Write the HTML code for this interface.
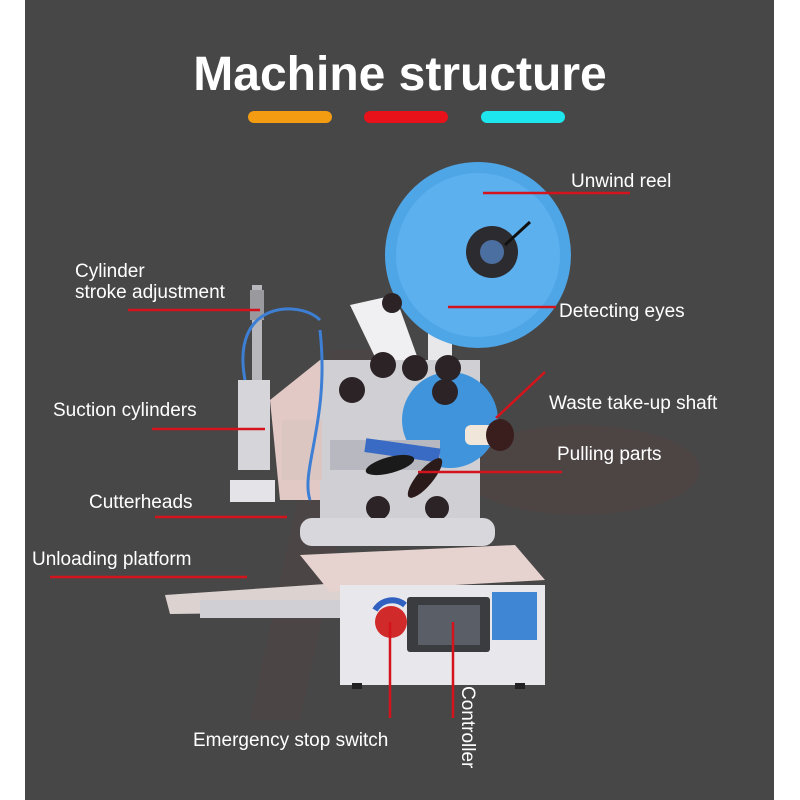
<!DOCTYPE html>
<html><head><meta charset="utf-8"><style>
html,body{margin:0;padding:0;width:800px;height:800px;overflow:hidden;background:#fff}
svg{display:block}
text{font-family:"Liberation Sans",sans-serif;fill:#fff}
</style></head><body>
<svg width="800" height="800" viewBox="0 0 800 800">
<rect x="25" y="0" width="749" height="800" fill="#474747"/>
<text x="400" y="90" text-anchor="middle" font-size="48" font-weight="bold">Machine structure</text>
<rect x="248" y="111" width="84" height="12" rx="6" fill="#f39c12"/>
<rect x="364" y="111" width="84" height="12" rx="6" fill="#e8121a"/>
<rect x="481" y="111" width="84" height="12" rx="6" fill="#1ee6ee"/>

<!-- faint watermark -->
<path d="M250 720 L330 350 L380 350 L300 720Z" fill="#6a3a3a" opacity="0.15"/>
<ellipse cx="580" cy="470" rx="120" ry="45" fill="#6a3a3a" opacity="0.18"/>

<!-- reel support -->
<rect x="428" y="300" width="24" height="120" fill="#e8e8ea"/>
<!-- unwind reel -->
<circle cx="478" cy="255" r="93" fill="#4fa6e6"/>
<circle cx="478" cy="255" r="82" fill="#5cb0ee"/>
<circle cx="492" cy="252" r="26" fill="#2c2c30"/>
<circle cx="492" cy="252" r="12" fill="#4b6fa0"/>
<line x1="505" y1="245" x2="530" y2="222" stroke="#111" stroke-width="3"/>
<!-- arm -->
<path d="M350 305 L395 295 L440 420 L410 430Z" fill="#f0f0f2"/>
<!-- main plate -->
<rect x="320" y="360" width="160" height="160" fill="#d0d0d4"/>
<path d="M270 400 L320 360 L320 500 L280 500Z" fill="#e2c9c6"/>
<!-- lower blue reel -->
<circle cx="450" cy="420" r="48" fill="#3f94dc"/>
<rect x="465" y="425" width="40" height="20" rx="6" fill="#f0e6da"/>
<ellipse cx="500" cy="435" rx="14" ry="16" fill="#3a1e1e"/>
<!-- rollers -->
<g fill="#2b2326">
<circle cx="383" cy="365" r="13"/><circle cx="415" cy="368" r="13"/><circle cx="448" cy="368" r="13"/>
<circle cx="352" cy="390" r="13"/><circle cx="445" cy="392" r="13"/>
<circle cx="378" cy="508" r="12"/><circle cx="437" cy="508" r="12"/>
<circle cx="392" cy="303" r="10"/>
</g>
<rect x="330" y="440" width="110" height="30" fill="#b8b8c0"/>
<rect x="365" y="443" width="75" height="14" fill="#3a6bc4" transform="rotate(8 400 450)"/>
<ellipse cx="390" cy="465" rx="25" ry="8" fill="#1a1a1a" transform="rotate(-15 390 465)"/>
<ellipse cx="425" cy="478" rx="8" ry="25" fill="#2a1a1a" transform="rotate(40 425 478)"/>
<!-- conveyor -->
<rect x="300" y="518" width="195" height="28" rx="12" fill="#d8d8dc"/>
<!-- cylinder parts -->
<rect x="252" y="285" width="10" height="95" fill="#b8b8bc"/>
<rect x="250" y="290" width="14" height="30" fill="#9a9a9e"/>
<rect x="238" y="380" width="32" height="90" fill="#d6d6da"/>
<rect x="230" y="480" width="45" height="22" fill="#e4e4e8"/>
<rect x="282" y="420" width="40" height="60" fill="#dcc6c2"/>
<path d="M245 380 C230 300 300 300 320 320" stroke="#3d7fd4" stroke-width="3" fill="none"/>
<path d="M320 330 C330 420 300 470 310 500" stroke="#3d7fd4" stroke-width="3" fill="none"/>
<!-- unloading platform -->
<path d="M165 595 L340 583 L345 612 L170 614Z" fill="#dcd2d0"/>
<rect x="200" y="600" width="140" height="18" fill="#cfcfd4"/>
<!-- top pink plate -->
<path d="M300 555 L515 545 L545 580 L330 592Z" fill="#e6d2cf"/>
<!-- base cabinet -->
<rect x="340" y="585" width="205" height="100" fill="#e8e8ec"/>
<rect x="407" y="597" width="83" height="55" rx="3" fill="#3a3c40"/>
<rect x="418" y="605" width="62" height="40" fill="#5a5e66"/>
<rect x="492" y="592" width="45" height="48" fill="#3f86d4"/>
<circle cx="391" cy="622" r="16" fill="#d02a2a"/>
<path d="M375 610 A20 20 0 0 1 405 605" stroke="#3060c0" stroke-width="6" fill="none"/>
<rect x="352" y="683" width="10" height="6" fill="#222"/><rect x="515" y="683" width="10" height="6" fill="#222"/>

<!-- connector lines -->
<g stroke="#d4141c" stroke-width="2.5" fill="none">
<line x1="483" y1="193" x2="630" y2="193"/>
<line x1="128" y1="310" x2="260" y2="310"/>
<line x1="448" y1="307" x2="556" y2="307"/>
<line x1="496" y1="418" x2="545" y2="372"/>
<line x1="152" y1="429" x2="265" y2="429"/>
<line x1="418" y1="472" x2="562" y2="472"/>
<line x1="155" y1="517" x2="287" y2="517"/>
<line x1="50" y1="577" x2="247" y2="577"/>
<line x1="390" y1="622" x2="390" y2="718"/>
<line x1="453" y1="622" x2="453" y2="718"/>
</g>

<!-- labels -->
<g font-size="19">
<text x="571" y="187">Unwind reel</text>
<text x="75" y="277">Cylinder</text>
<text x="75" y="298">stroke adjustment</text>
<text x="559" y="317">Detecting eyes</text>
<text x="549" y="409">Waste take-up shaft</text>
<text x="53" y="416">Suction cylinders</text>
<text x="557" y="460">Pulling parts</text>
<text x="89" y="508">Cutterheads</text>
<text x="32" y="565">Unloading platform</text>
<text x="193" y="746">Emergency stop switch</text>
<text x="462" y="686" transform="rotate(90 462 686)">Controller</text>
</g>
</svg>
</body></html>
